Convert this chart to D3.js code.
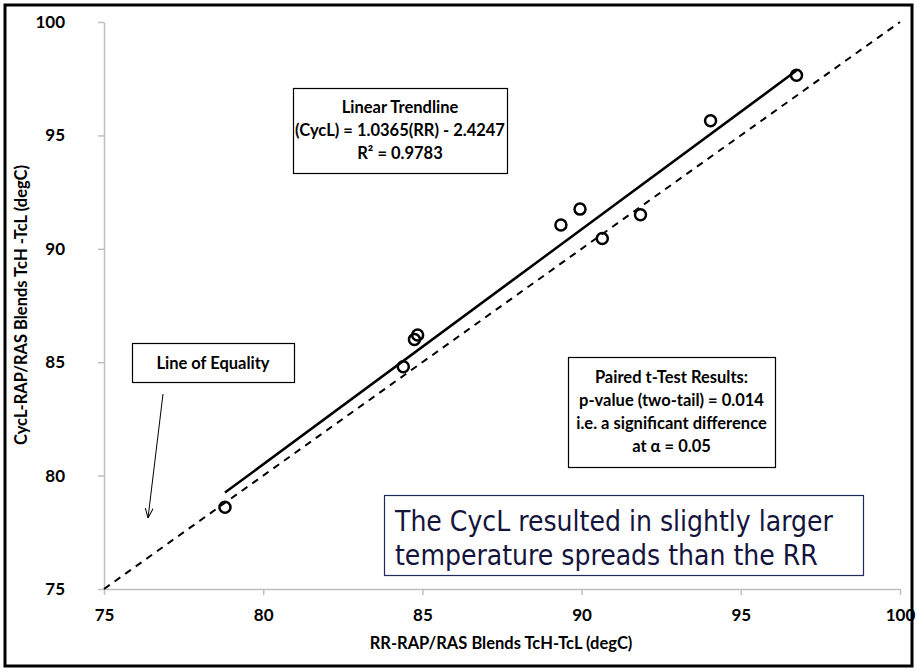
<!DOCTYPE html>
<html><head><meta charset="utf-8">
<script src="https://cdn.jsdelivr.net/npm/d3@7"></script>
<style>body{margin:0;background:#fff}svg{display:block}</style>
</head><body><svg id="c" width="917" height="671"></svg>
<script>
const rrValues   = [78.8, 84.4, 84.75, 84.85, 89.35, 89.95, 90.65, 91.85, 94.05, 96.75];
const cyclValues = [78.6, 84.8, 86.0, 86.2, 91.05, 91.75, 90.45, 91.5, 95.65, 97.65];
const xTicks = [75, 80, 85, 90, 95, 100];
const yTicks = [75, 80, 85, 90, 95, 100];
const trendSlope = 1.0365, trendIntercept = -2.4247;
const trendText = ["Linear Trendline", "(CycL) = 1.0365(RR) - 2.4247", "R² = 0.9783"];
const ttestText = ["Paired t-Test Results:", "p-value (two-tail) = 0.014", "i.e. a significant difference", "at α = 0.05"];
const noteText = ["The CycL resulted in slightly larger", "temperature spreads than the RR"];
const xTitle = "RR-RAP/RAS Blends TcH-TcL (degC)";
const yTitle = "CycL-RAP/RAS Blends TcH -TcL (degC)";

const svg = d3.select("#c");
const F = "Lato, 'Open Sans', sans-serif";
const x = d3.scaleLinear().domain([75,100]).range([104,900]);
const y = d3.scaleLinear().domain([75,100]).range([589,22]);

svg.append("rect").attr("x",5).attr("y",5).attr("width",907).attr("height",661)
  .attr("fill","#fff").attr("stroke","#000").attr("stroke-width",3);

// axes
const xa = svg.append("g").attr("transform","translate(0,589)")
  .call(d3.axisBottom(x).tickValues(xTicks).tickSize(6).tickSizeOuter(0).tickPadding(14));
const ya = svg.append("g").attr("transform","translate(104,0)")
  .call(d3.axisLeft(y).tickValues(yTicks).tickSize(6).tickSizeOuter(0).tickPadding(33));
[xa,ya].forEach(a=>{
  a.attr("font-size",null).attr("font-family",null);
  a.select(".domain").attr("stroke","#bfbfbf").attr("stroke-width",1.5);
  a.selectAll(".tick line").attr("stroke","#bfbfbf").attr("stroke-width",1.5);
  a.selectAll(".tick text").style("font-family",F).style("font-size","17px").style("font-weight","bold").attr("fill","#000");
});

svg.append("text").attr("x",501).attr("y",649).attr("text-anchor","middle")
  .style("font-family",F).style("font-size","16.5px").style("font-weight","bold").text(xTitle);
svg.append("text").attr("transform","translate(27,305) rotate(-90)").attr("text-anchor","middle")
  .style("font-family",F).style("font-size","16.5px").style("font-weight","bold").text(yTitle);

// line of equality
svg.append("line").attr("x1",x(75)).attr("y1",y(75)).attr("x2",x(100)).attr("y2",y(100))
  .attr("stroke","#000").attr("stroke-width",2).attr("stroke-dasharray","7,6");

// trendline
const xmin = d3.min(rrValues), xmax = d3.max(rrValues);
svg.append("line").attr("x1",x(xmin)).attr("y1",y(trendSlope*xmin+trendIntercept))
  .attr("x2",x(xmax)).attr("y2",y(trendSlope*xmax+trendIntercept))
  .attr("stroke","#000").attr("stroke-width",2.5);

// points
svg.selectAll("circle.p").data(rrValues.map((v,i)=>[v,cyclValues[i]])).join("circle")
  .attr("class","p").attr("cx",d=>x(d[0])).attr("cy",d=>y(d[1])).attr("r",5.5)
  .attr("fill","none").attr("stroke","#000").attr("stroke-width",2.5);

// boxes
function box(x0,y0,w,h,lines,lh,opts){
  const g = svg.append("g");
  g.append("rect").attr("x",x0+0.5).attr("y",y0+0.5).attr("width",w).attr("height",h)
    .attr("fill","#fff").attr("stroke",opts.stroke||"#000").attr("stroke-width",1.2);
  lines.forEach((t,i)=>{
    g.append("text").attr("x",opts.anchor==="start"? x0+opts.pad : x0+w/2)
      .attr("y",y0+opts.first+i*lh).attr("text-anchor",opts.anchor||"middle")
      .style("font-family",opts.font||F).style("font-size",opts.size+"px").style("font-weight",opts.weight||"bold")
      .attr("fill",opts.fill||"#000").text(t);
  });
}
box(293,88,214,85,trendText,23,{size:16.5,first:25});
box(568,357,207,110,ttestText,23,{size:16.5,first:26});
box(132,343,162,39,["Line of Equality"],0,{size:16.5,first:26});

// arrow
svg.append("defs").append("marker").attr("id","ah").attr("viewBox","0 0 10 10")
  .attr("refX",10).attr("refY",5).attr("markerWidth",10).attr("markerHeight",10)
  .attr("orient","auto").attr("markerUnits","userSpaceOnUse")
  .append("path").attr("d","M0,1 L10,5 L0,9").attr("fill","none").attr("stroke","#000").attr("stroke-width",1);
svg.append("line").attr("x1",163).attr("y1",394).attr("x2",148).attr("y2",518)
  .attr("stroke","#000").attr("stroke-width",1).attr("marker-end","url(#ah)");

// note box
box(384,495,479,80,noteText,34,{size:28,first:36,anchor:"start",pad:11,weight:"normal",
  font:"Tahoma, 'DejaVu Sans Condensed', 'DejaVu Sans', sans-serif",fill:"#14143c",stroke:"#1f2a5c"});
</script></body></html>
